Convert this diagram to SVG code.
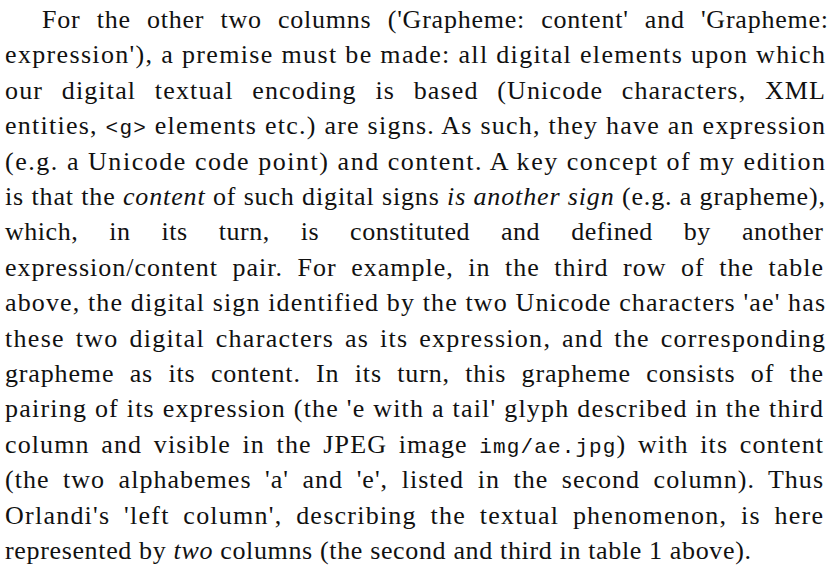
<svg xmlns="http://www.w3.org/2000/svg" width="833" height="573" viewBox="0 0 833 573">
<style>
  .t { font-family: "Liberation Serif", "Times New Roman", serif; font-size: 26px; fill: #111; }
  .i { font-style: italic; }
  .m { font-family: "Liberation Mono", "Courier New", monospace; font-size: 21px; }
</style>
<rect width="833" height="573" fill="#ffffff"/>
<g id="paragraph">
  <text class="t" x="42" y="28" textLength="786" lengthAdjust="spacing" word-spacing="9">For the other two columns ('Grapheme: content' and 'Grapheme:</text>
  <text class="t" x="5" y="63.4" textLength="820" lengthAdjust="spacing">expression'), a premise must be made: all digital elements upon which</text>
  <text class="t" x="5" y="98.8" textLength="820" lengthAdjust="spacing" word-spacing="11">our digital textual encoding is based (Unicode characters, XML</text>
  <text class="t" x="5" y="134.2" textLength="820" lengthAdjust="spacing">entities, <tspan class="m">&lt;g&gt;</tspan> elements etc.) are signs. As such, they have an expression</text>
  <text class="t" x="5" y="169.6" textLength="820" lengthAdjust="spacing">(e.g. a Unicode code point) and content. A key concept of my edition</text>
  <text class="t" x="5" y="205" textLength="820" lengthAdjust="spacing">is that the <tspan class="i">content</tspan> of such digital signs <tspan class="i">is another sign</tspan> (e.g. a grapheme),</text>
  <text class="t" x="5" y="240.4" textLength="818" lengthAdjust="spacing" word-spacing="24">which, in its turn, is constituted and defined by another</text>
  <text class="t" x="5" y="275.8" textLength="818" lengthAdjust="spacing" word-spacing="7">expression/content pair. For example, in the third row of the table</text>
  <text class="t" x="5" y="311.2" textLength="820" lengthAdjust="spacing">above, the digital sign identified by the two Unicode characters 'ae' has</text>
  <text class="t" x="5" y="346.6" textLength="820" lengthAdjust="spacing" word-spacing="3">these two digital characters as its expression, and the corresponding</text>
  <text class="t" x="5" y="382" textLength="818" lengthAdjust="spacing" word-spacing="8">grapheme as its content. In its turn, this grapheme consists of the</text>
  <text class="t" x="5" y="417.4" textLength="818" lengthAdjust="spacing">pairing of its expression (the 'e with a tail' glyph described in the third</text>
  <text class="t" x="5" y="452.8" textLength="818" lengthAdjust="spacing" word-spacing="4">column and visible in the JPEG image <tspan class="m">img/ae.jpg</tspan>) with its content</text>
  <text class="t" x="5" y="488.2" textLength="818" lengthAdjust="spacing" word-spacing="6">(the two alphabemes 'a' and 'e', listed in the second column). Thus</text>
  <text class="t" x="5" y="523.6" textLength="818" lengthAdjust="spacing" word-spacing="6">Orlandi's 'left column', describing the textual phenomenon, is here</text>
  <text class="t" x="5" y="559" textLength="746" lengthAdjust="spacing">represented by <tspan class="i">two</tspan> columns (the second and third in table 1 above).</text>
</g>
</svg>
